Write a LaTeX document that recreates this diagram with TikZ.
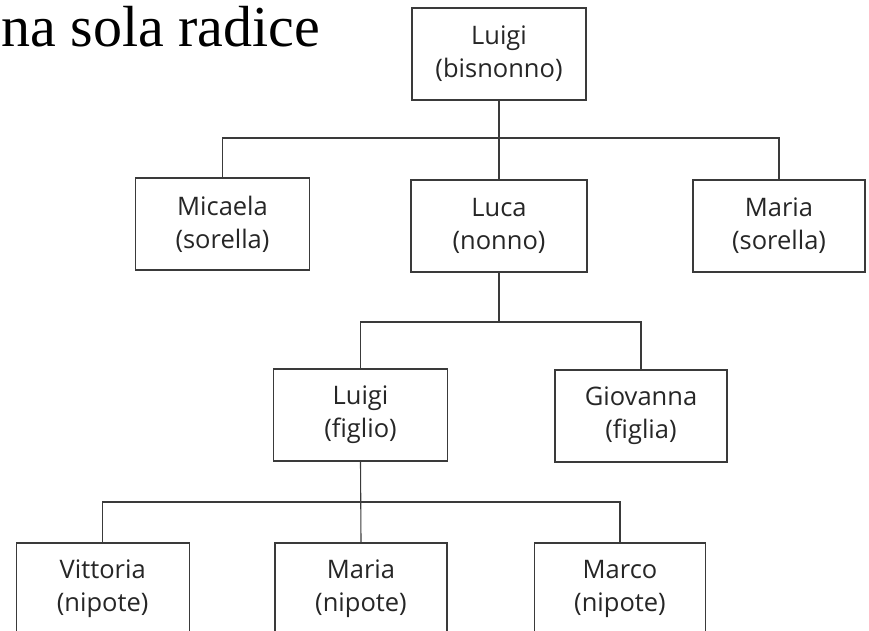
\documentclass[tikz,border=0pt]{standalone}
\usepackage{fontspec}
\setmainfont{Liberation Serif}
\newfontfamily\boxfont{Open Sans}
\begin{document}
\begin{tikzpicture}[x=1pt,y=-1pt,
  person/.style={draw=linegray, line width=1.2pt, rectangle, minimum width=174pt,
    minimum height=92pt, inner sep=0pt, align=center, text=textgray,
    font=\boxfont\fontsize{25.5}{33}\selectfont},
  link/.style={draw=linegray, line width=1.1pt}]
\definecolor{linegray}{HTML}{3A3A3A}
\definecolor{textgray}{HTML}{262626}
\useasboundingbox (0,0) rectangle (869,630);

% heading
\node[anchor=base west, inner sep=0pt, font=\fontsize{58}{68}\selectfont] (title) at (1,46) {na sola radice};

% generations
\node[person] (luigiB) at (499,54) {Luigi\\(bisnonno)};
\node[person] (micaela) at (222.5,224) {Micaela\\(sorella)};
\node[person, minimum width=176pt] (luca) at (499,226) {Luca\\(nonno)};
\node[person, minimum width=172pt] (mariaS) at (779,226) {Maria\\(sorella)};
\node[person] (luigiF) at (360.5,415) {Luigi\\(figlio)};
\node[person, minimum width=172pt] (giovanna) at (641,416) {Giovanna\\(figlia)};
\node[person, minimum width=173pt] (vittoria) at (102.7,589) {Vittoria\\(nipote)};
\node[person, minimum width=172pt] (mariaN) at (361,589) {Maria\\(nipote)};
\node[person, minimum width=171pt] (marco) at (620,589) {Marco\\(nipote)};

% branch levels
\coordinate (bar1) at (0,138);
\coordinate (bar2) at (0,322);
\coordinate (bar3) at (0,502);

% connectors
\draw[link] (luigiB.south) -- (luca.north);
\draw[link] (micaela.north) -- (micaela.north |- bar1) -- (mariaS.north |- bar1) -- (mariaS.north);

\draw[link] (luca.south) -- (luca.south |- bar2);
\draw[link] (luigiF.north) -- (luigiF.north |- bar2) -- (giovanna.north |- bar2) -- (giovanna.north);

\draw[link] (luigiF.south) -- (mariaN.north);
\draw[link] (vittoria.north) -- (vittoria.north |- bar3) -- (marco.north |- bar3) -- (marco.north);
\end{tikzpicture}
\end{document}
